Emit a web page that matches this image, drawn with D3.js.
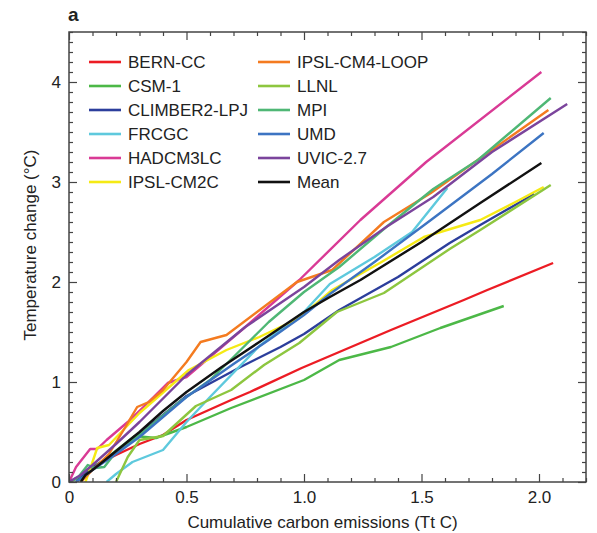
<!DOCTYPE html>
<html>
<head>
<meta charset="utf-8">
<script src="https://cdn.jsdelivr.net/npm/d3@7"></script>
<style>
  body { margin: 0; background: #fff; }
  text { font-family: "Liberation Sans", Arial, sans-serif; fill: #222; }
</style>
</head>
<body>
<div id="chart"></div>
<script>
// model names and colours, in legend order
let models = ["BERN-CC", "CSM-1", "CLIMBER2-LPJ", "FRCGC", "HADCM3LC", "IPSL-CM2C",
              "IPSL-CM4-LOOP", "LLNL", "MPI", "UMD", "UVIC-2.7", "Mean"];
let colors = ["#ec1c24", "#4cb847", "#2c3e9c", "#5ec9dd", "#d93a95", "#f5ea14",
              "#f47b20", "#8dc63f", "#4fb775", "#3c74c2", "#7b449c", "#111111"];

// [cumulative emissions (Tt C), temperature change (degC)]
let bernCC = [[0,0],[0.05,0.06],[0.1,0.15],[0.2,0.27],[0.3,0.38],[0.4,0.47],[0.5,0.62],[0.69,0.82],[0.77,0.9],[0.99,1.14],[1.07,1.22],[1.37,1.52],[1.68,1.82],[1.78,1.92],[2.06,2.19]];
let csm1 = [[0,0],[0.05,0.05],[0.1,0.15],[0.15,0.22],[0.22,0.35],[0.28,0.46],[0.37,0.44],[0.5,0.55],[0.69,0.74],[1.0,1.02],[1.15,1.22],[1.37,1.35],[1.58,1.54],[1.85,1.76]];
let climber = [[0.03,0],[0.07,0.08],[0.1,0.14],[0.2,0.3],[0.3,0.48],[0.5,0.86],[0.73,1.15],[0.9,1.35],[1.0,1.48],[1.15,1.72],[1.4,2.05],[1.62,2.39],[1.75,2.57],[1.98,2.88]];
let frcgc = [[0.16,0],[0.2,0.08],[0.27,0.2],[0.4,0.32],[0.5,0.6],[0.6,0.85],[0.81,1.36],[1.0,1.7],[1.11,1.98],[1.3,2.25],[1.46,2.5],[1.61,2.94]];
let hadcm3lc = [[0,0],[0.03,0.15],[0.09,0.33],[0.12,0.33],[0.16,0.42],[0.25,0.6],[0.33,0.78],[0.42,0.99],[0.5,1.05],[0.75,1.55],[0.98,2.02],[1.24,2.62],[1.52,3.2],[2.01,4.1]];
let ipslCM2C = [[0.07,0],[0.1,0.2],[0.12,0.34],[0.17,0.37],[0.3,0.69],[0.51,1.12],[0.67,1.32],[0.81,1.45],[0.98,1.64],[1.12,1.92],[1.33,2.2],[1.51,2.45],[1.75,2.62],[1.9,2.8],[2.02,2.95]];
let ipslCM4 = [[0.05,0],[0.1,0.12],[0.17,0.28],[0.24,0.55],[0.29,0.75],[0.34,0.8],[0.4,0.92],[0.5,1.2],[0.56,1.4],[0.67,1.47],[0.97,2.0],[1.12,2.12],[1.34,2.6],[1.54,2.89],[2.04,3.72]];
let llnl = [[0.2,0],[0.25,0.25],[0.3,0.42],[0.4,0.46],[0.54,0.76],[0.69,0.92],[0.83,1.17],[0.98,1.39],[1.14,1.7],[1.34,1.89],[1.62,2.33],[1.75,2.52],[2.05,2.97]];
let mpi = [[0,0],[0.04,0.05],[0.08,0.17],[0.11,0.14],[0.15,0.15],[0.2,0.3],[0.3,0.47],[0.47,0.8],[0.6,1.02],[0.7,1.25],[0.85,1.6],[1.0,1.9],[1.15,2.15],[1.35,2.55],[1.55,2.93],[1.74,3.22],[2.05,3.84]];
let umd = [[0.03,0],[0.06,0.05],[0.1,0.12],[0.2,0.28],[0.3,0.45],[0.5,0.85],[0.7,1.18],[0.85,1.42],[1.0,1.67],[1.11,1.88],[1.3,2.2],[1.54,2.62],[1.8,3.08],[2.02,3.49]];
let uvic = [[0,0],[0.05,0.07],[0.1,0.17],[0.2,0.38],[0.3,0.6],[0.5,1.07],[0.75,1.55],[1.0,1.95],[1.15,2.22],[1.35,2.55],[1.55,2.85],[1.8,3.3],[2.12,3.78]];
let mean = [[0.05,0],[0.07,0.07],[0.1,0.12],[0.18,0.27],[0.3,0.5],[0.4,0.71],[0.5,0.9],[0.65,1.15],[0.81,1.4],[1.0,1.7],[1.11,1.85],[1.24,2.02],[1.5,2.4],[1.75,2.79],[2.01,3.19]];

let series = [bernCC, csm1, climber, frcgc, hadcm3lc, ipslCM2C, ipslCM4, llnl, mpi, umd, uvic, mean];

let xTicks = [0, 0.5, 1.0, 1.5, 2.0];
let xTickLabels = ["0", "0.5", "1.0", "1.5", "2.0"];
let yTicks = [0, 1, 2, 3, 4];

let width = 597, height = 533;
let plotLeft = 69, plotRight = 586, plotTop = 32, plotBottom = 482;

let svg = d3.select("#chart").append("svg")
    .attr("width", width)
    .attr("height", height);

let x = d3.scaleLinear().domain([0, 2.2]).range([plotLeft, plotRight]);
let y = d3.scaleLinear().domain([0, 4.5]).range([plotBottom, plotTop]);

// clip so lines stay inside the frame
svg.append("clipPath").attr("id", "clip")
    .append("rect")
    .attr("x", plotLeft).attr("y", plotTop)
    .attr("width", plotRight - plotLeft).attr("height", plotBottom - plotTop);

let line = d3.line()
    .x(d => x(d[0]))
    .y(d => y(d[1]));

// draw the lines, mean last so it sits on top
svg.append("g").attr("clip-path", "url(#clip)")
    .selectAll("path")
    .data(series)
    .enter().append("path")
    .attr("d", line)
    .attr("fill", "none")
    .attr("stroke", (_, i) => colors[i])
    .attr("stroke-width", 2.4)
    .attr("stroke-linejoin", "round");

// axes, ticks point inward on every side
let axisColor = "#444";
let xMinor = d3.range(0, 2.21, 0.1).filter(v => Math.abs(v * 2 - Math.round(v * 2)) > 0.01);
let yMinor = d3.range(0, 4.51, 0.1).filter(v => Math.abs(v - Math.round(v)) > 0.01);

function styleAxis(g) {
    g.select(".domain").remove();
    g.selectAll("line").attr("stroke", axisColor).attr("stroke-width", 1.2);
    g.selectAll("text").attr("font-size", 17).attr("fill", "#222")
        .style("font-family", "Liberation Sans, Arial, sans-serif");
}

// bottom
svg.append("g").attr("transform", `translate(0,${plotBottom})`)
    .call(d3.axisBottom(x).tickValues(xTicks).tickFormat((d, i) => xTickLabels[i])
        .tickSizeInner(-8).tickSizeOuter(0).tickPadding(9))
    .call(styleAxis);
svg.append("g").attr("transform", `translate(0,${plotBottom})`)
    .call(d3.axisBottom(x).tickValues(xMinor).tickFormat("").tickSizeInner(-4).tickSizeOuter(0))
    .call(styleAxis);
// top
svg.append("g").attr("transform", `translate(0,${plotTop})`)
    .call(d3.axisTop(x).tickValues(xTicks).tickFormat("").tickSizeInner(-8).tickSizeOuter(0))
    .call(styleAxis);
svg.append("g").attr("transform", `translate(0,${plotTop})`)
    .call(d3.axisTop(x).tickValues(xMinor).tickFormat("").tickSizeInner(-4).tickSizeOuter(0))
    .call(styleAxis);
// left
svg.append("g").attr("transform", `translate(${plotLeft},0)`)
    .call(d3.axisLeft(y).tickValues(yTicks).tickFormat(d3.format("d"))
        .tickSizeInner(-8).tickSizeOuter(0).tickPadding(8))
    .call(styleAxis);
svg.append("g").attr("transform", `translate(${plotLeft},0)`)
    .call(d3.axisLeft(y).tickValues(yMinor).tickFormat("").tickSizeInner(-4).tickSizeOuter(0))
    .call(styleAxis);
// right
svg.append("g").attr("transform", `translate(${plotRight},0)`)
    .call(d3.axisRight(y).tickValues(yTicks).tickFormat("").tickSizeInner(-8).tickSizeOuter(0))
    .call(styleAxis);
svg.append("g").attr("transform", `translate(${plotRight},0)`)
    .call(d3.axisRight(y).tickValues(yMinor).tickFormat("").tickSizeInner(-4).tickSizeOuter(0))
    .call(styleAxis);

// frame
svg.append("rect")
    .attr("x", plotLeft).attr("y", plotTop)
    .attr("width", plotRight - plotLeft).attr("height", plotBottom - plotTop)
    .attr("fill", "none")
    .attr("stroke", axisColor)
    .attr("stroke-width", 1.5);

// axis titles
svg.append("text")
    .attr("x", (plotLeft + plotRight) / 2 - 5)
    .attr("y", 528)
    .attr("text-anchor", "middle")
    .attr("font-size", 17)
    .text("Cumulative carbon emissions (Tt C)");

svg.append("text")
    .attr("transform", `translate(36,${(plotTop + plotBottom) / 2 - 12}) rotate(-90)`)
    .attr("text-anchor", "middle")
    .attr("font-size", 17)
    .text("Temperature change (°C)");

// panel letter
svg.append("text")
    .attr("x", 68).attr("y", 21)
    .attr("font-size", 19)
    .attr("font-weight", "bold")
    .text("a");

// legend, two columns of six
let legend = svg.append("g");
let rows = legend.selectAll("g")
    .data(models)
    .enter().append("g")
    .attr("transform", (_, i) => `translate(${i < 6 ? 89 : 258},${62 + (i % 6) * 24})`);

rows.append("line")
    .attr("x1", 0).attr("x2", 32)
    .attr("stroke", (_, i) => colors[i])
    .attr("stroke-width", 2.6);

rows.append("text")
    .attr("x", 39)
    .attr("dy", "0.36em")
    .attr("font-size", 17)
    .text(d => d);
</script>
</body>
</html>
